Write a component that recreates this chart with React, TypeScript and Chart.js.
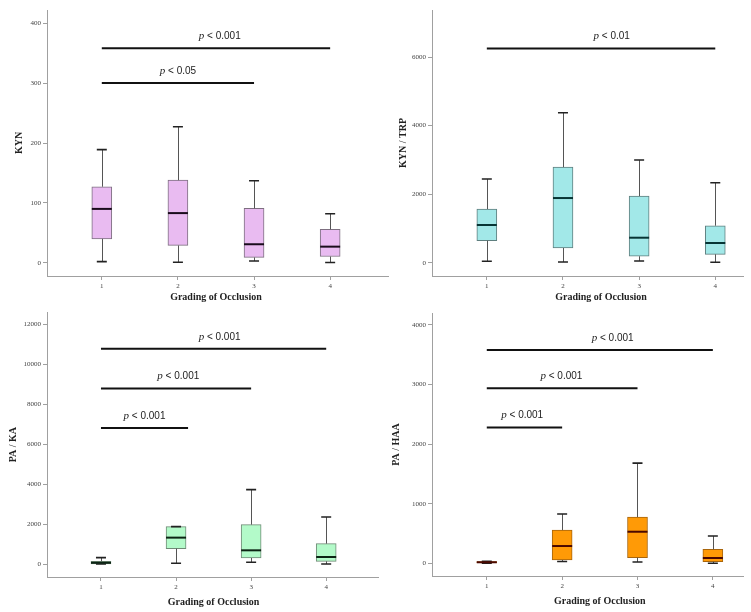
import React, { useEffect, useRef } from 'react';
import { Chart, registerables } from 'chart.js';

Chart.register(...registerables);

// ---------- data ----------
const grades = [1, 2, 3, 4];
const xTickValues = [1, 2, 3, 4];

// KYN
const kynMin = [2, 1, 3, 0.5];
const kynQ1 = [40, 29, 9, 10.5];
const kynMed = [90, 83, 31, 27];
const kynQ3 = [127, 138, 91, 56];
const kynMax = [189, 227, 137, 82];
const kynTicks = [0, 100, 200, 300, 400];
const kynSigFrom = [1, 1];
const kynSigTo = [4, 3];
const kynSigY = [358, 300];
const kynSigLabelAt = [2.55, 2.0];
const kynSigText = ['< 0.001', '< 0.05'];

// KYN / TRP
const ktMin = [41, 20, 50, 12];
const ktQ1 = [641, 428, 187, 245];
const ktMed = [1099, 1886, 729, 574];
const ktQ3 = [1565, 2790, 1944, 1079];
const ktMax = [2440, 4373, 2994, 2332];
const ktTicks = [0, 2000, 4000, 6000];
const ktSigFrom = [1];
const ktSigTo = [4];
const ktSigY = [6250];
const ktSigLabelAt = [2.64];
const ktSigText = ['< 0.01'];

// PA / KA
const pkMin = [0, 40, 85, 0];
const pkQ1 = [10, 770, 300, 135];
const pkMed = [60, 1320, 685, 350];
const pkQ3 = [140, 1870, 1970, 1020];
const pkMax = [320, 1870, 3720, 2350];
const pkTicks = [0, 2000, 4000, 6000, 8000, 10000, 12000];
const pkSigFrom = [1, 1, 1];
const pkSigTo = [4, 3, 2.16];
const pkSigY = [10770, 8785, 6800];
const pkSigLabelAt = [2.58, 2.03, 1.58];
const pkSigText = ['< 0.001', '< 0.001', '< 0.001'];

// PA / HAA
const phMin = [2, 30, 22, 0];
const phQ1 = [8, 55, 94, 27];
const phMed = [18, 290, 530, 89];
const phQ3 = [30, 558, 776, 235];
const phMax = [35, 828, 1681, 458];
const phTicks = [0, 1000, 2000, 3000, 4000];
const phSigFrom = [1, 1, 1];
const phSigTo = [4, 3, 2];
const phSigY = [3580, 2938, 2280];
const phSigLabelAt = [2.67, 1.99, 1.47];
const phSigText = ['< 0.001', '< 0.001', '< 0.001'];

const xTitle = 'Grading of Occlusion';

type Panel = {
  yTitle: string;
  min: number[]; q1: number[]; med: number[]; q3: number[]; max: number[];
  yTicks: number[];
  sigFrom: number[]; sigTo: number[]; sigY: number[]; sigLabelAt: number[]; sigText: string[];
  fill: string; border: string; median: string;
  left: number; top: number; w: number; h: number;
  padTop: number; padRight: number; yAxisW: number; xAxisH: number; yTitlePad: number; xTitleOff: number;
  xMin: number; xMax: number; yMin: number; yMax: number;
};

const panels: Panel[] = [
  {
    yTitle: 'KYN', min: kynMin, q1: kynQ1, med: kynMed, q3: kynQ3, max: kynMax, yTicks: kynTicks,
    sigFrom: kynSigFrom, sigTo: kynSigTo, sigY: kynSigY, sigLabelAt: kynSigLabelAt, sigText: kynSigText,
    fill: '#e9bbf1', border: '#7d6f80', median: '#1a0c1c',
    left: 0, top: 0, w: 395, h: 306, padTop: 10, padRight: 7, yAxisW: 47, xAxisH: 30, yTitlePad: 13, xTitleOff: 21,
    xMin: 0.28, xMax: 4.76, yMin: -22, yMax: 422,
  },
  {
    yTitle: 'KYN / TRP', min: ktMin, q1: ktQ1, med: ktMed, q3: ktQ3, max: ktMax, yTicks: ktTicks,
    sigFrom: ktSigFrom, sigTo: ktSigTo, sigY: ktSigY, sigLabelAt: ktSigLabelAt, sigText: ktSigText,
    fill: '#a2e8e8', border: '#5f7f7f', median: '#073535',
    left: 375, top: 0, w: 376, h: 306, padTop: 10, padRight: 8, yAxisW: 57, xAxisH: 30, yTitlePad: 22, xTitleOff: 21,
    xMin: 0.28, xMax: 4.364, yMin: -388, yMax: 7371,
  },
  {
    yTitle: 'PA / KA', min: pkMin, q1: pkQ1, med: pkMed, q3: pkQ3, max: pkMax, yTicks: pkTicks,
    sigFrom: pkSigFrom, sigTo: pkSigTo, sigY: pkSigY, sigLabelAt: pkSigLabelAt, sigText: pkSigText,
    fill: '#b3fac9', border: '#6f8a76', median: '#0c2414',
    left: 0, top: 306, w: 395, h: 306, padTop: 6, padRight: 17, yAxisW: 47, xAxisH: 35, yTitlePad: 7, xTitleOff: 25,
    xMin: 0.281, xMax: 4.69, yMin: -650, yMax: 12600,
  },
  {
    yTitle: 'PA / HAA', min: phMin, q1: phQ1, med: phMed, q3: phQ3, max: phMax, yTicks: phTicks,
    sigFrom: phSigFrom, sigTo: phSigTo, sigY: phSigY, sigLabelAt: phSigLabelAt, sigText: phSigText,
    fill: '#ff9a06', border: '#a8650c', median: '#4a0800',
    left: 375, top: 306, w: 376, h: 306, padTop: 7, padRight: 8, yAxisW: 57, xAxisH: 36, yTitlePad: 15, xTitleOff: 25,
    xMin: 0.273, xMax: 4.40, yMin: -213, yMax: 4201,
  },
];

function makePlugin(p: Panel) {
  return {
    id: 'boxExtras',
    afterDatasetsDraw(chart: any) {
      const ctx: CanvasRenderingContext2D = chart.ctx;
      const xs = chart.scales.x;
      const ys = chart.scales.y;
      ctx.save();
      grades.forEach((g, i) => {
        const px = xs.getPixelForValue(g);
        const yMax = ys.getPixelForValue(p.max[i]);
        const yQ3 = ys.getPixelForValue(p.q3[i]);
        const yQ1 = ys.getPixelForValue(p.q1[i]);
        const yMin = ys.getPixelForValue(p.min[i]);
        const yMed = ys.getPixelForValue(p.med[i]);
        ctx.strokeStyle = '#555';
        ctx.lineWidth = 1;
        ctx.beginPath();
        ctx.moveTo(Math.round(px) + 0.5, yMax);
        ctx.lineTo(Math.round(px) + 0.5, yQ3);
        ctx.moveTo(Math.round(px) + 0.5, yQ1);
        ctx.lineTo(Math.round(px) + 0.5, yMin);
        ctx.stroke();
        ctx.strokeStyle = '#222';
        ctx.lineWidth = 1.6;
        ctx.beginPath();
        ctx.moveTo(px - 5, yMax);
        ctx.lineTo(px + 5, yMax);
        ctx.moveTo(px - 5, yMin);
        ctx.lineTo(px + 5, yMin);
        ctx.stroke();
        ctx.strokeStyle = p.median;
        ctx.lineWidth = 2;
        ctx.beginPath();
        ctx.moveTo(px - 10, yMed);
        ctx.lineTo(px + 10, yMed);
        ctx.stroke();
      });
      ctx.fillStyle = '#222';
      ctx.textBaseline = 'middle';
      p.sigText.forEach((t, i) => {
        const cx = xs.getPixelForValue(p.sigLabelAt[i]);
        const cy = ys.getPixelForValue(p.sigY[i]) - 12;
        ctx.font = 'italic 11px "Liberation Serif"';
        const wp = ctx.measureText('p').width;
        ctx.font = '10px "Liberation Sans"';
        const wt = ctx.measureText(' ' + t).width;
        const start = cx - (wp + wt) / 2;
        ctx.textAlign = 'left';
        ctx.font = 'italic 11px "Liberation Serif"';
        ctx.fillText('p', start, cy);
        ctx.font = '10px "Liberation Sans"';
        ctx.fillText(' ' + t, start + wp, cy);
      });
      ctx.font = 'bold 10px "Liberation Serif"';
      ctx.textAlign = 'center';
      ctx.fillStyle = '#222';
      const mid = (grades[0] + grades[grades.length - 1]) / 2;
      ctx.fillText(xTitle, xs.getPixelForValue(mid), chart.chartArea.bottom + p.xTitleOff);
      ctx.restore();
    },
  };
}

function BoxPanel({ p }: { p: Panel }) {
  const ref = useRef<HTMLCanvasElement | null>(null);
  useEffect(() => {
    if (!ref.current) return;
    const boxData = grades.map((g, i) => ({ x: g, y: [p.q1[i], p.q3[i]] }));
    const sigSets = p.sigY.map((yv, i) => ({
      type: 'line' as const,
      data: [{ x: p.sigFrom[i], y: yv }, { x: p.sigTo[i], y: yv }],
      borderColor: '#111',
      borderWidth: 2,
      pointRadius: 0,
      fill: false,
    }));
    const axisColor = '#a0a0a0';
    const chart = new Chart(ref.current, {
      type: 'bar',
      data: {
        datasets: [
          {
            type: 'bar' as const,
            data: boxData as any,
            backgroundColor: p.fill,
            borderColor: p.border,
            borderWidth: 1,
            borderSkipped: false,
            barThickness: 20,
          },
          ...(sigSets as any[]),
        ],
      },
      options: {
        responsive: false,
        animation: false,
        devicePixelRatio: 1,
        layout: { padding: { top: p.padTop, right: p.padRight, left: 0, bottom: 0 } },
        plugins: { legend: { display: false }, tooltip: { enabled: false } },
        scales: {
          x: {
            type: 'linear',
            min: p.xMin,
            max: p.xMax,
            offset: false,
            grid: { drawOnChartArea: false, drawTicks: true, tickLength: 4, color: axisColor, offset: false },
            border: { color: axisColor },
            ticks: {
              font: { family: 'Liberation Serif', size: 7 }, color: '#444', padding: 2, autoSkip: false, maxRotation: 0,
              callback: (v: any) => String(v),
            },
            afterBuildTicks: (s: any) => { s.ticks = xTickValues.map((v) => ({ value: v })); },
            afterFit: (s: any) => { s.height = p.xAxisH; },
          },
          y: {
            type: 'linear',
            min: p.yMin,
            max: p.yMax,
            grid: { drawOnChartArea: false, drawTicks: true, tickLength: 4, color: axisColor },
            border: { color: axisColor },
            ticks: {
              font: { family: 'Liberation Serif', size: 7 }, color: '#444', padding: 2,
              callback: (v: any) => String(v),
            },
            afterBuildTicks: (s: any) => { s.ticks = p.yTicks.map((v) => ({ value: v })); },
            afterFit: (s: any) => { s.width = p.yAxisW; },
            title: {
              display: true,
              text: p.yTitle,
              color: '#222',
              font: { family: 'Liberation Serif', size: 10, weight: 'bold' },
              padding: { top: p.yTitlePad, bottom: 0 },
            },
          },
        },
      } as any,
      plugins: [makePlugin(p)],
    });
    return () => chart.destroy();
  }, [p]);
  return (
    <canvas
      ref={ref}
      width={p.w}
      height={p.h}
      style={{ position: 'absolute', left: p.left, top: p.top, width: p.w, height: p.h }}
    />
  );
}

export default function App() {
  return (
    <div style={{ position: 'fixed', left: 0, top: 0, width: 751, height: 612, background: '#fff', overflow: 'hidden' }}>
      {panels.map((p, i) => (
        <BoxPanel key={i} p={p} />
      ))}
    </div>
  );
}
